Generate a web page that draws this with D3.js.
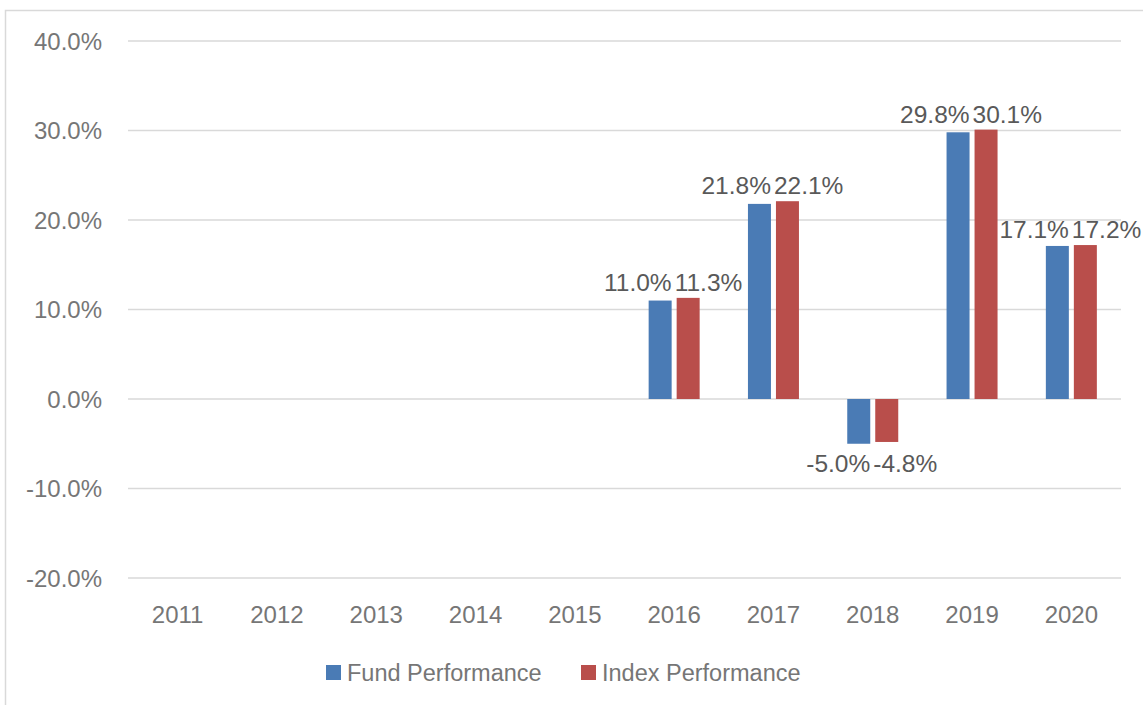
<!DOCTYPE html>
<html>
<head>
<meta charset="utf-8">
<script src="https://cdn.jsdelivr.net/npm/d3@7"></script>
<style>
  html, body { margin: 0; padding: 0; background: #fff; }
  svg { display: block; font-family: "Liberation Sans", Arial, sans-serif; }
</style>
</head>
<body>
<svg id="chart" width="1143" height="705"></svg>
<script>
const years = ["2011","2012","2013","2014","2015","2016","2017","2018","2019","2020"];
const seriesNames = ["Fund Performance", "Index Performance"];
const fundValues  = [null, null, null, null, null, 11.0, 21.8, -5.0, 29.8, 17.1];
const indexValues = [null, null, null, null, null, 11.3, 22.1, -4.8, 30.1, 17.2];
const yTicks = [-20, -10, 0, 10, 20, 30, 40];
const colors = ["#4a7bb5", "#b94e4b"];

const svg = d3.select("#chart");
const plot = { left: 128, right: 1121, top: 41, bottom: 578 };

// outer border
svg.append("rect")
  .attr("x", 5.5).attr("y", 10.5)
  .attr("width", 1300).attr("height", 900)
  .attr("fill", "none").attr("stroke", "#d9d9d9").attr("stroke-width", 1.5);

const x0 = d3.scaleBand().domain(years).range([plot.left, plot.right]).padding(0);
const x1 = d3.scaleBand().domain(seriesNames).range([-25.5, 25.5]).paddingInner(0.1786).paddingOuter(0);
const y = d3.scaleLinear().domain([-20, 40]).range([plot.bottom, plot.top]);

// grid lines
svg.append("g").selectAll("line").data(yTicks).join("line")
  .attr("x1", plot.left).attr("x2", plot.right)
  .attr("y1", d => y(d)).attr("y2", d => y(d))
  .attr("stroke", "#d9d9d9").attr("stroke-width", 1.5);

const fmt = d => d3.format(".1f")(d).replace("\u2212", "-") + "%";

// y axis labels
svg.append("g").selectAll("text").data(yTicks).join("text")
  .attr("x", 102).attr("y", d => y(d)).attr("dy", "0.36em")
  .attr("text-anchor", "end")
  .attr("font-size", 24).attr("fill", "#767676")
  .text(fmt);

// x axis labels
svg.append("g").selectAll("text").data(years).join("text")
  .attr("x", d => x0(d) + x0.bandwidth() / 2).attr("y", 623)
  .attr("text-anchor", "middle")
  .attr("font-size", 24).attr("fill", "#767676")
  .text(d => d);

// bars
const rows = [];
years.forEach((yr, i) => {
  const vals = [fundValues[i], indexValues[i]];
  vals.forEach((v, s) => {
    if (v !== null) rows.push({ yr, s, v, pair: vals });
  });
});

const cx = d => x0(d.yr) + x0.bandwidth() / 2 + x1(seriesNames[d.s]);

svg.append("g").selectAll("rect").data(rows).join("rect")
  .attr("x", cx)
  .attr("width", x1.bandwidth())
  .attr("y", d => Math.min(y(d.v), y(0)))
  .attr("height", d => Math.abs(y(d.v) - y(0)))
  .attr("fill", d => colors[d.s]);

// data labels
svg.append("g").selectAll("text").data(rows).join("text")
  .attr("x", d => d.s === 0 ? cx(d) + x1.bandwidth() : cx(d) - 2)
  .attr("y", d => {
    if (d.v >= 0) return y(Math.max(...d.pair)) - 7;
    return y(Math.min(...d.pair)) + 28;
  })
  .attr("text-anchor", d => d.s === 0 ? "end" : "start")
  .attr("font-size", 24.5).attr("fill", "#595959")
  .text(d => fmt(d.v));

// legend
const legendItems = [
  { name: seriesNames[0], color: colors[0], x: 326 },
  { name: seriesNames[1], color: colors[1], x: 581 }
];
const lg = svg.append("g").selectAll("g").data(legendItems).join("g")
  .attr("transform", d => `translate(${d.x},0)`);
lg.append("rect").attr("x", 0).attr("y", 665).attr("width", 15).attr("height", 15)
  .attr("fill", d => d.color);
lg.append("text").attr("x", 21).attr("y", 681)
  .attr("font-size", 23.5).attr("fill", "#767676")
  .text(d => d.name);
</script>
</body>
</html>
